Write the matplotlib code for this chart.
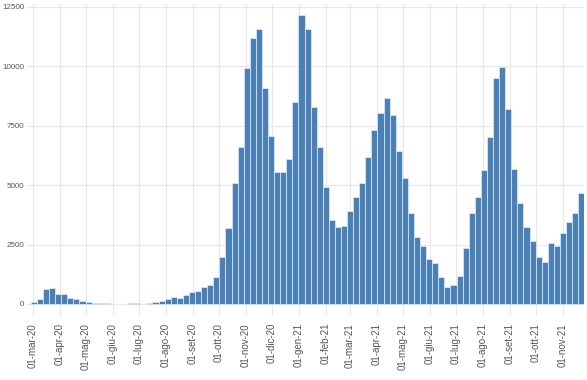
import pandas as pd
import matplotlib
matplotlib.use("Agg")
import matplotlib.pyplot as plt
import matplotlib.dates as mdates

# una barra per settimana, a partire da lunedì 2 marzo 2020
first_week = "2020-03-02"
weekly_values = [
    80, 200, 650, 680, 420, 400, 240, 230, 110, 90,
    40, 30, 30, 10, 5, 5, 25, 25, 5, 30,
    72, 126, 198, 308, 265, 366, 505, 547, 703, 800,
    1150, 1966, 3187, 5107, 6620, 9920, 11210, 11566, 9080, 7070,
    5570, 5570, 6090, 8500, 12170, 11566, 8290, 6590, 4920, 3550,
    3220, 3290, 3920, 4520, 5107, 6200, 7310, 8040, 8650, 7950,
    6430, 5300, 3825, 2840, 2460, 1880, 1740, 1120, 700, 785,
    1180, 2340, 3840, 4490, 5640, 7020, 9500, 9990, 8200, 5670,
    4265, 3255, 2665, 1966, 1755, 2555, 2455, 2975, 3465, 3820,
    4660,
]

# etichette dell'asse x (primo del mese)
tick_labels = [
    "01-mar-20", "01-apr-20", "01-mag-20", "01-giu-20", "01-lug-20",
    "01-ago-20", "01-set-20", "01-ott-20", "01-nov-20", "01-dic-20",
    "01-gen-21", "01-feb-21", "01-mar-21", "01-apr-21", "01-mag-21",
    "01-giu-21", "01-lug-21", "01-ago-21", "01-set-21", "01-ott-21",
    "01-nov-21",
]
y_ticks = [0, 2500, 5000, 7500, 10000, 12500]

weeks = pd.date_range(first_week, periods=len(weekly_values), freq="7D")
tick_dates = pd.date_range("2020-03-01", periods=len(tick_labels), freq="MS")

fig = plt.figure(figsize=(5.87, 3.80), dpi=100)
ax = fig.add_axes([27 / 587, 64 / 380, 557 / 587, 312 / 380])

x = mdates.date2num(weeks)
ax.bar(x, weekly_values, width=7, color="#4a80b6", edgecolor="#e4eef8",
       linewidth=0.5, zorder=3)

start = mdates.date2num(pd.Timestamp("2020-03-01"))
ax.set_xlim(start - 6.9, start + 634.2)
ax.set_ylim(-505, 12625)

ax.set_xticks(mdates.date2num(tick_dates))
ax.set_xticklabels(tick_labels, rotation=90, fontsize=7, color="#555555",
                   family="Liberation Sans")
ax.set_yticks(y_ticks)
ax.set_yticklabels([str(v) for v in y_ticks], fontsize=5.8, color="#555555",
                   family="Liberation Sans")
ax.tick_params(axis="x", length=0, pad=5)
ax.tick_params(axis="y", length=0, pad=2)

ax.grid(True, color="#e8e8e8", linewidth=0.9, zorder=0)
for s in ax.spines.values():
    s.set_visible(False)

fig.savefig("out.png", dpi=100)
